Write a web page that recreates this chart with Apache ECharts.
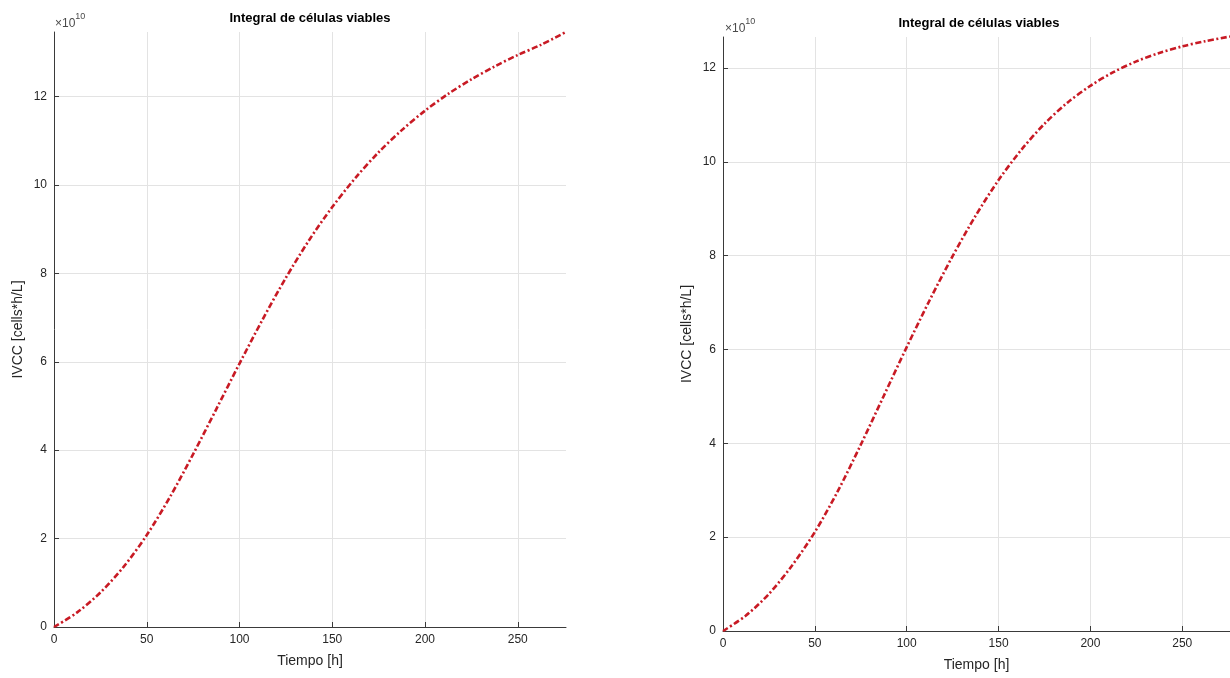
<!DOCTYPE html>
<html>
<head>
<meta charset="utf-8">
<script src="https://cdn.jsdelivr.net/npm/echarts@6/dist/echarts.min.js"></script>
<style>
html,body{margin:0;padding:0;background:#fff;}
#c{width:1230px;height:678px;}
</style>
</head>
<body>
<div id="c"></div>
<script>
// Time (h)
const timeH = [0, 12.5, 25, 37.5, 50, 62.5, 75, 87.5, 100, 112.5, 125, 137.5, 150, 162.5, 175, 187.5, 200, 212.5, 225, 237.5, 250, 262.5, 276];
// IVCC, units of 1e10 cells*h/L
const ivccLeft = [0, 0.33, 0.78, 1.36, 2.08, 2.94, 3.91, 4.93, 5.96, 6.96, 7.90, 8.75, 9.50, 10.16, 10.74, 11.24, 11.68, 12.06, 12.39, 12.68, 12.94, 13.17, 13.46];
const ivccRight = [0, 0.33, 0.79, 1.39, 2.11, 2.98, 3.97, 5.01, 6.05, 7.05, 7.99, 8.85, 9.61, 10.26, 10.81, 11.26, 11.62, 11.91, 12.14, 12.32, 12.46, 12.57, 12.67];
const xTicks = [0, 50, 100, 150, 200, 250];
const yTicks = [0, 2, 4, 6, 8, 10, 12];
const titleText = 'Integral de células viables';
const xName = 'Tiempo [h]';
const yName = 'IVCC [cells*h/L]';

const FONT = '"Liberation Sans", Arial, Helvetica, sans-serif';
const axisCol = '#3a3a3a';
const textCol = '#262626';
const lineCol = '#c81a24';

function xAx(gi){
  return {
    type:'value', gridIndex:gi, min:0, max:276, interval:50,
    name:xName, nameLocation:'middle', nameGap:27,
    nameTextStyle:{color:textCol,fontSize:14,fontFamily:FONT},
    axisLine:{show:true,onZero:false,lineStyle:{color:axisCol,width:1}},
    axisTick:{show:true,inside:true,length:5,lineStyle:{color:axisCol}},
    axisLabel:{color:textCol,fontSize:12,fontFamily:FONT,margin:7,showMaxLabel:false,
      formatter:v=>xTicks.indexOf(v)>=0?String(v):''},
    splitLine:{show:true,showMaxLine:false,lineStyle:{color:'#e3e3e3',width:1}}
  };
}
function yAx(gi,max){
  return {
    type:'value', gridIndex:gi, min:0, max:max, interval:2,
    name:yName, nameLocation:'middle', nameGap:29, nameRotate:90,
    nameTextStyle:{color:textCol,fontSize:14,fontFamily:FONT},
    axisLine:{show:true,onZero:false,lineStyle:{color:axisCol,width:1}},
    axisTick:{show:true,inside:true,length:5,lineStyle:{color:axisCol}},
    axisLabel:{color:textCol,fontSize:12,fontFamily:FONT,margin:7,showMaxLabel:false,
      formatter:v=>yTicks.indexOf(v)>=0?String(v):''},
    splitLine:{show:true,showMaxLine:false,lineStyle:{color:'#e3e3e3',width:1}}
  };
}
function ser(gi,ys){
  return {
    type:'line', xAxisIndex:gi, yAxisIndex:gi,
    data: timeH.map((t,i)=>[t,ys[i]]),
    smooth:0.3, showSymbol:false, clip:false,
    lineStyle:{color:lineCol,width:2.6,type:[6,2.5,2,2.5]}
  };
}
function mult(x,y){
  return {type:'text', left:x, top:y, style:{
    text:'{a|×10}{b|10}', rich:{a:{fontSize:12,fill:'#4a4a4a',fontFamily:FONT,verticalAlign:'bottom'},
    b:{fontSize:9,fill:'#4a4a4a',fontFamily:FONT,verticalAlign:'top',padding:[0,0,9,0]}}}};
}
const chart = echarts.init(document.getElementById('c'));
chart.setOption({
  animation:false,
  backgroundColor:'#fff',
  grid:[
    {left:54, top:32, width:512, height:595},
    {left:723, top:37, width:512, height:594}
  ],
  xAxis:[xAx(0), xAx(1)],
  yAxis:[yAx(0,13.46), yAx(1,12.66)],
  series:[ser(0,ivccLeft), ser(1,ivccRight)],
  graphic:[
    {type:'text', x:310, y:18, style:{text:titleText, fontSize:13, fontWeight:'bold', fill:'#000', fontFamily:FONT, align:'center', verticalAlign:'middle'}},
    {type:'text', x:979, y:23, style:{text:titleText, fontSize:13, fontWeight:'bold', fill:'#000', fontFamily:FONT, align:'center', verticalAlign:'middle'}},
    mult(55,12),
    mult(725,17)
  ]
});
</script>
</body>
</html>
